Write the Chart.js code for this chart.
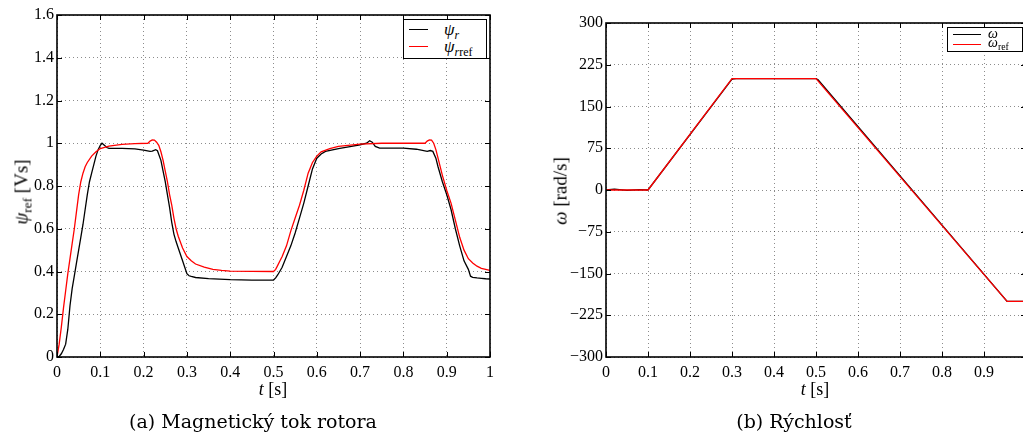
<!DOCTYPE html>
<html>
<head>
<meta charset="utf-8">
<script src="https://cdn.jsdelivr.net/npm/chart.js@4.4.1/dist/chart.umd.min.js"></script>
<style>
  html, body { margin: 0; padding: 0; background: #fff; overflow: hidden; }
  body { width: 1023px; height: 434px; position: relative; font-family: "Liberation Serif", serif; color: #000; }
  .box { position: absolute; }
  .txt { position: absolute; white-space: nowrap; font-size: 18px; line-height: 1; }
  .rot { transform: translate(-50%, -50%) rotate(-90deg); }
  .ctr { transform: translate(-50%, -50%); }
  .cap { font-family: "DejaVu Serif", serif; font-size: 19px; }
  .legend { position: absolute; background: #fff; border: 1.5px solid #000; box-sizing: border-box; }
  .legend .ln { position: absolute; height: 0; border-top: 1.3px solid #000; }
  .legend .lab { position: absolute; white-space: nowrap; line-height: 1; }
  sub { font-size: 70%; vertical-align: baseline; position: relative; top: 0.3em; }
</style>
</head>
<body>
<div class="box" style="left:0;top:0;width:520px;height:434px"><canvas id="flux"></canvas></div>
<div class="box" style="left:540px;top:0;width:500px;height:434px"><canvas id="speed"></canvas></div>

<div class="txt rot" style="left:21px;top:192px;font-size:19px"><i>ψ</i><sub>ref</sub> [Vs]</div>
<div class="txt ctr" style="left:273px;top:389px"><i>t</i> [s]</div>
<div class="txt ctr cap" style="left:253px;top:421px">(a) Magnetický tok rotora</div>

<div class="txt rot" style="left:560px;top:191px;font-size:19px"><i>ω</i> [rad/s]</div>
<div class="txt ctr" style="left:815px;top:389px"><i>t</i> [s]</div>
<div class="txt ctr cap" style="left:794px;top:421px">(b) Rýchlosť</div>

<div class="legend" style="left:403px;top:19px;width:84px;height:40px">
  <div class="ln" style="left:5px;width:19px;top:9px;border-color:#000"></div>
  <div class="lab" style="left:40px;top:1px;font-size:17px"><i>ψ</i><sub><i>r</i></sub></div>
  <div class="ln" style="left:5px;width:19px;top:26px;border-color:#f00"></div>
  <div class="lab" style="left:40px;top:18px;font-size:17px"><i>ψ</i><sub><i>r</i>ref</sub></div>
</div>
<div class="legend" style="left:947px;top:27px;width:76px;height:25px">
  <div class="ln" style="left:5px;width:28px;top:6px;border-color:#000"></div>
  <div class="lab" style="left:40px;top:-1px;font-size:14px"><i>ω</i></div>
  <div class="ln" style="left:5px;width:28px;top:16px;border-color:#f00"></div>
  <div class="lab" style="left:40px;top:8px;font-size:14px"><i>ω</i><sub>ref</sub></div>
</div>

<script>
// magneticky tok - cas [s]
const fluxRefTime = [0, 0.005, 0.01, 0.015, 0.02, 0.025, 0.03, 0.035, 0.04, 0.045, 0.05, 0.055, 0.06, 0.065, 0.07, 0.08, 0.09, 0.1,
  0.12, 0.15, 0.18, 0.21, 0.215, 0.22, 0.225, 0.23, 0.235, 0.24, 0.245, 0.25, 0.255, 0.26, 0.265, 0.27, 0.275, 0.28, 0.29, 0.3,
  0.31, 0.32, 0.34, 0.36, 0.38, 0.4, 0.45, 0.5, 0.505, 0.51, 0.515, 0.52, 0.53, 0.54, 0.55, 0.56, 0.57, 0.58, 0.59, 0.6, 0.61,
  0.63, 0.65, 0.7, 0.75, 0.85, 0.855, 0.86, 0.865, 0.87, 0.875, 0.88, 0.89, 0.9, 0.91, 0.92, 0.93, 0.94, 0.95, 0.96, 0.97, 0.98, 0.99, 1.0];
const psiRref = [0, 0.06, 0.14, 0.23, 0.31, 0.39, 0.46, 0.53, 0.6, 0.68, 0.76, 0.82, 0.86, 0.89, 0.91, 0.94, 0.96, 0.975,
  0.987, 0.995, 0.998, 1.0, 1.01, 1.016, 1.015, 1.005, 0.99, 0.96, 0.92, 0.87, 0.82, 0.76, 0.71, 0.65, 0.6, 0.565, 0.51, 0.47,
  0.45, 0.435, 0.42, 0.41, 0.405, 0.402, 0.401, 0.4, 0.41, 0.43, 0.45, 0.47, 0.52, 0.59, 0.65, 0.71, 0.78, 0.86, 0.91, 0.94, 0.96,
  0.975, 0.985, 0.996, 1.0, 1.0, 1.01, 1.016, 1.015, 1.0, 0.97, 0.93, 0.85, 0.78, 0.72, 0.64, 0.56, 0.5, 0.46, 0.44, 0.425, 0.415, 0.41, 0.405];

const fluxTime = [0, 0.005, 0.01, 0.015, 0.02, 0.025, 0.03, 0.035, 0.04, 0.045, 0.05, 0.055, 0.06, 0.065, 0.07, 0.075, 0.08, 0.085,
  0.09, 0.095, 0.1, 0.104, 0.11, 0.115, 0.12, 0.15, 0.18, 0.2, 0.215, 0.22, 0.228, 0.232, 0.24, 0.245, 0.25, 0.255, 0.26, 0.265,
  0.27, 0.275, 0.28, 0.29, 0.3, 0.305, 0.31, 0.32, 0.35, 0.4, 0.45, 0.5, 0.505, 0.51, 0.52, 0.53, 0.54, 0.55, 0.56, 0.57, 0.58,
  0.59, 0.6, 0.61, 0.62, 0.65, 0.68, 0.7, 0.715, 0.722, 0.728, 0.735, 0.745, 0.8, 0.83, 0.855, 0.862, 0.868, 0.875, 0.88, 0.89,
  0.9, 0.91, 0.92, 0.93, 0.94, 0.95, 0.955, 0.96, 0.97, 0.98, 0.99, 1.0];
const psiR = [0, 0.003, 0.015, 0.035, 0.06, 0.13, 0.24, 0.32, 0.38, 0.44, 0.5, 0.56, 0.62, 0.69, 0.76, 0.82, 0.86, 0.9,
  0.94, 0.97, 0.99, 1.0, 0.99, 0.98, 0.976, 0.976, 0.974, 0.968, 0.962, 0.963, 0.97, 0.965, 0.92, 0.87, 0.82, 0.76, 0.7, 0.63,
  0.575, 0.54, 0.51, 0.45, 0.39, 0.38, 0.377, 0.372, 0.367, 0.362, 0.36, 0.36, 0.37, 0.385, 0.42, 0.47, 0.52, 0.58, 0.65, 0.72, 0.8,
  0.88, 0.93, 0.95, 0.962, 0.975, 0.985, 0.993, 1.0, 1.012, 1.005, 0.985, 0.977, 0.977, 0.972, 0.962, 0.966, 0.962, 0.93, 0.89, 0.82,
  0.76, 0.69, 0.6, 0.52, 0.45, 0.41, 0.378, 0.373, 0.37, 0.368, 0.366, 0.365];

// rychlost
const speedRefTime = [0, 0.1, 0.3, 0.5, 0.955, 1.0];
const omegaRef = [0, 0, 200, 200, -200, -200];
const speedTime = [0, 0.02, 0.05, 0.08, 0.1, 0.3, 0.31, 0.5, 0.505, 0.955, 1.0];
const omega = [0, 1.5, -0.5, 0.5, 0, 199, 200, 200, 198, -200, -200];

const fluxTicks = [0, 0.2, 0.4, 0.6, 0.8, 1, 1.2, 1.4, 1.6];
const speedTicks = [-300, -225, -150, -75, 0, 75, 150, 225, 300];

const pts = (xs, ys) => xs.map((x, i) => ({ x: x, y: ys[i] }));
const tickFont = { family: 'Liberation Serif', size: 16 };

// ramik a ticky dovnutra ako v matlabe
const frame = {
  id: 'frame',
  afterDraw(chart) {
    const { ctx, chartArea: a, scales } = chart;
    ctx.save();
    ctx.strokeStyle = '#000';
    ctx.lineWidth = 1;
    ctx.beginPath();
    scales.x.ticks.forEach(t => {
      const px = Math.round(scales.x.getPixelForValue(t.value)) + 0.5;
      ctx.moveTo(px, a.bottom); ctx.lineTo(px, a.bottom - 5);
      ctx.moveTo(px, a.top); ctx.lineTo(px, a.top + 5);
    });
    scales.y.ticks.forEach(t => {
      const py = Math.round(scales.y.getPixelForValue(t.value)) + 0.5;
      ctx.moveTo(a.left, py); ctx.lineTo(a.left + 5, py);
      ctx.moveTo(a.right, py); ctx.lineTo(a.right - 5, py);
    });
    ctx.stroke();
    ctx.lineWidth = 1.6;
    ctx.strokeRect(a.left, a.top, a.right - a.left, a.bottom - a.top);
    ctx.restore();
  }
};

function makeChart(id, datasets, yMin, yMax, yTicks, pad, yWidth, xHeight, hideLast) {
  return new Chart(document.getElementById(id), {
    type: 'line',
    data: { datasets: datasets },
    options: {
      responsive: true,
      maintainAspectRatio: false,
      animation: false,
      layout: { padding: pad },
      elements: { point: { radius: 0 }, line: { borderWidth: 1.3, tension: 0 } },
      plugins: { legend: { display: false }, tooltip: { enabled: false } },
      scales: {
        x: {
          type: 'linear', min: 0, max: 1,
          afterFit: s => { s.height = xHeight; },
          grid: { color: 'rgba(0,0,0,0.45)', drawTicks: false },
          border: { display: false, dash: [1, 3] },
          ticks: {
            stepSize: 0.1, padding: 6, color: '#000', font: tickFont, maxRotation: 0,
            callback: v => (hideLast && v === 1) ? '' : String(Math.round(v * 10) / 10)
          }
        },
        y: {
          min: yMin, max: yMax,
          afterFit: s => { s.width = yWidth; },
          afterBuildTicks: s => { s.ticks = yTicks.map(v => ({ value: v })); },
          grid: { color: 'rgba(0,0,0,0.45)', drawTicks: false },
          border: { display: false, dash: [1, 3] },
          ticks: {
            padding: 3, color: '#000', font: tickFont,
            callback: v => String(v).replace('-', '\u2212')
          }
        }
      }
    },
    plugins: [frame]
  });
}

// cervena (referencia) kreslena navrchu
makeChart('flux', [
  { data: pts(fluxTime, psiR), borderColor: '#000', order: 1 },
  { data: pts(fluxRefTime, psiRref), borderColor: '#ff0000', order: 0 }
], 0, 1.6, fluxTicks, { top: 15, right: 30, left: 0, bottom: 0 }, 57, 77, false);

makeChart('speed', [
  { data: pts(speedTime, omega), borderColor: '#000', order: 1 },
  { data: pts(speedRefTime, omegaRef), borderColor: '#ff0000', order: 0 }
], -300, 300, speedTicks, { top: 23, right: 14, left: 0, bottom: 0 }, 66, 77, true);
</script>
</body>
</html>
